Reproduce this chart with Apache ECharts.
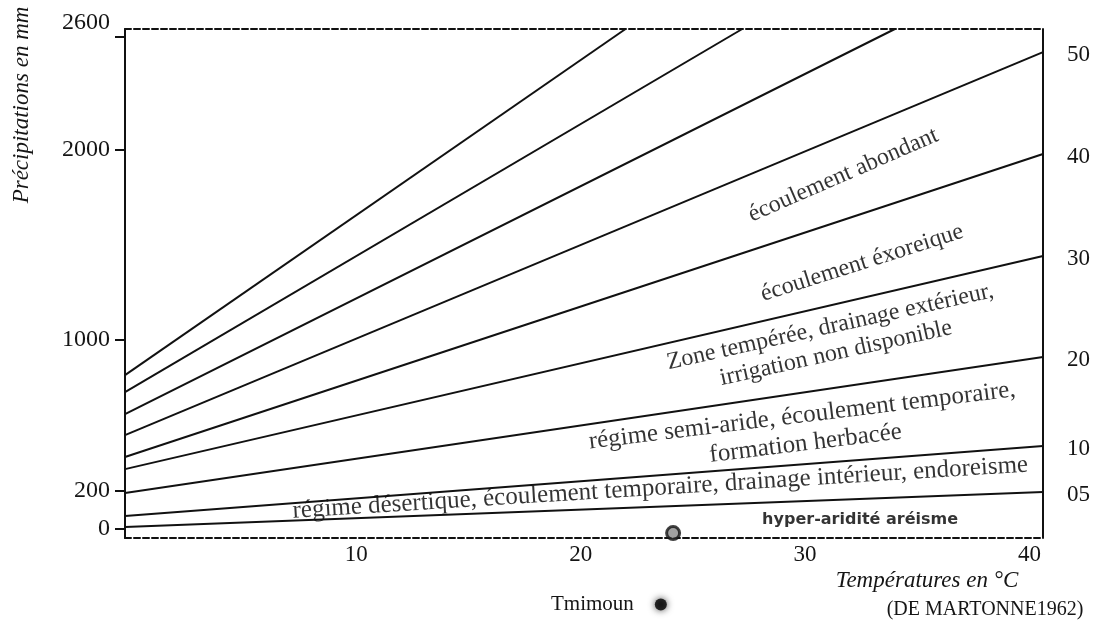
<!DOCTYPE html>
<html><head><meta charset="utf-8">
<script src="https://cdn.jsdelivr.net/npm/echarts@6/dist/echarts.min.js"></script>
<style>html,body{margin:0;padding:0;background:#fff}#c{width:1097px;height:627px}</style>
</head><body><div id="c"></div>
<script>
// ---- data ----
const indexLabels = ['05','10','20','30','40','50','','',''];
const lineStart = [[-0.3,8],[-0.3,66],[-0.3,188],[-0.3,314],[-0.3,378],[-0.3,494],[-0.3,605],[-0.3,721],[-0.3,811]];
const lineEnd = [[40.6,193],[40.6,436],[40.6,906],[40.6,1440],[40.6,1979],[40.6,2518],[34.0,2640],[27.2,2640],[22.0,2640]];
const yTickValues = [0,200,1000,2000,2600];
const xTickValues = [10,20,30,40];
const zoneTexts = [
  'écoulement abondant',
  'écoulement éxoreique',
  'Zone tempérée, drainage extérieur,\nirrigation non disponible',
  'régime semi-aride, écoulement temporaire,\nformation herbacée',
  'régime désertique, écoulement temporaire, drainage intérieur, endoreisme'
];
const zoneT = [31.70,32.54,31.25,29.95,23.55];
const zoneP = [1868,1403,996,522,214];
const hyperText = 'hyper-aridité aréisme';
const hyperPoint = [32.45,45];
const stationName = 'Tmimoun';
const stationPoint = [24.12,-24];

// ---- styles ----
const zoneAngle = [23.5,17.6,12.5,7,3.6];
const zoneFont = [24,24,24,25,25];
const SERIF = 'Liberation Serif';
const INK = '#111';
const TXT = '#151515';
const dashed = {show:true, onZero:false, lineStyle:{color:INK, width:2, type:[6,3]}};
const solid = {show:true, onZero:false, lineStyle:{color:INK, width:2}};

const lineSeries = lineStart.map((s,i)=>({
  type:'line', data:[s, lineEnd[i]], symbol:'none', silent:true,
  lineStyle:{color:INK, width:2},
  endLabel:{show: indexLabels[i] !== '', formatter: indexLabels[i], distance:24, offset:[0,3],
    fontFamily:SERIF, fontSize:23, color:TXT}
}));

const chart = echarts.init(document.getElementById('c'), null, {renderer:'canvas'});
chart.setOption({
  animation:false,
  backgroundColor:'#fff',
  grid:{left:125, right:54, top:29, bottom:89, containLabel:false},
  xAxis:[
    {type:'value', min:-0.3, max:40.6, position:'bottom', axisLine:dashed, axisTick:{show:false},
     splitLine:{show:false},
     axisLabel:{customValues:xTickValues, fontFamily:SERIF, fontSize:23, color:TXT, margin:5}},
    {type:'value', min:-0.3, max:40.6, position:'top', axisLine:dashed, axisTick:{show:false},
     splitLine:{show:false}, axisLabel:{show:false}}
  ],
  yAxis:[
    {type:'value', min:-50, max:2640, position:'left', axisLine:solid,
     axisTick:{show:true, customValues:yTickValues, length:10, lineStyle:{color:INK, width:2}},
     splitLine:{show:false},
     axisLabel:{customValues:yTickValues, fontFamily:SERIF, fontSize:24, color:TXT, margin:15,
       formatter:v => v === 2600 ? '{t|2600}' : String(v),
       rich:{t:{fontFamily:SERIF, fontSize:24, color:TXT, padding:[0,0,27,0]}}}},
    {type:'value', min:-50, max:2640, position:'right', axisLine:solid, axisTick:{show:false},
     splitLine:{show:false}, axisLabel:{show:false}}
  ],
  legend:{
    data:[{name:stationName, icon:'circle', itemStyle:{color:'#000', borderWidth:0, shadowBlur:7, shadowColor:'rgba(0,0,0,0.9)'}}],
    left:546, top:589, align:'right', itemWidth:12, itemHeight:12, selectedMode:false,
    textStyle:{fontFamily:SERIF, fontSize:21, color:TXT, padding:[0,16,0,0]}
  },
  series:[
    ...lineSeries,
    {type:'scatter', symbolSize:1, silent:true, itemStyle:{color:'transparent'},
     data: zoneTexts.map((t,i)=>({value:[zoneT[i], zoneP[i]], name:t,
       label:{rotate:zoneAngle[i], fontSize:zoneFont[i], lineHeight:zoneFont[i]+3}})),
     label:{show:true, position:'inside', formatter:'{b}', fontFamily:SERIF, fontSize:24, lineHeight:27,
       color:'#000', align:'center', verticalAlign:'middle'}},
    {type:'scatter', symbolSize:1, silent:true, itemStyle:{color:'transparent'},
     data:[{value:hyperPoint, name:hyperText}],
     label:{show:true, position:'inside', formatter:'{b}', fontFamily:'DejaVu Sans', fontWeight:'bold',
       fontSize:16, color:'#000', align:'center', verticalAlign:'middle'}},
    {type:'scatter', name:stationName, data:[stationPoint], symbol:'circle', symbolSize:13,
     itemStyle:{color:'#8a8a8a', borderColor:INK, borderWidth:3}}
  ],
  graphic:[
    {type:'text', x:22, y:105, rotation:Math.PI/2,
     style:{text:'Précipitations en mm', font:'italic 23px "Liberation Serif"', fill:TXT, align:'center', verticalAlign:'middle'}},
    {type:'text', x:927, y:581,
     style:{text:'Températures en °C', font:'italic 23px "Liberation Serif"', fill:TXT, align:'center', verticalAlign:'middle'}},
    {type:'text', x:985, y:610,
     style:{text:'(DE MARTONNE1962)', font:'20px "Liberation Serif"', fill:TXT, align:'center', verticalAlign:'middle'}}
  ]
});
</script></body></html>
